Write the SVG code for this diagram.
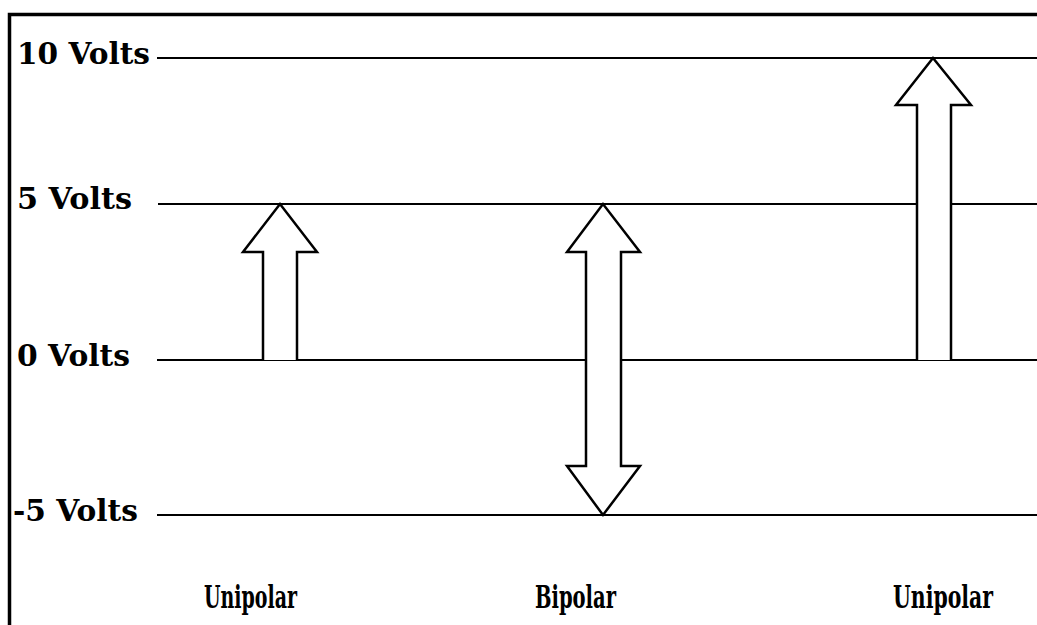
<svg xmlns="http://www.w3.org/2000/svg" width="1037" height="625" viewBox="0 0 1037 625">
  <style>
    .frame { fill: none; stroke: #000; stroke-width: 3.5; }
    .level { stroke: #000; stroke-width: 2; }
    .arrow { fill: #fff; stroke: #000; stroke-width: 2.5; stroke-linejoin: miter; }
    .label { font-family: "DejaVu Serif", "Liberation Serif", serif; font-size: 30px; font-weight: bold; fill: #000; }
    .kind { font-family: "DejaVu Serif Condensed", "Liberation Serif", serif; font-stretch: condensed; font-size: 31px; }
  </style>
  <rect width="1037" height="625" fill="#fff"/>
  <!-- outer frame (top and left edges) -->
  <path class="frame" d="M9.5,625 V14.5 H1037"/>

  <!-- voltage levels -->
  <g id="level-10">
    <line class="level" x1="157" y1="58" x2="1037" y2="58"/>
    <text class="label" x="17" y="64" textLength="133" lengthAdjust="spacingAndGlyphs">10 Volts</text>
  </g>
  <g id="level-5">
    <line class="level" x1="158" y1="204" x2="1037" y2="204"/>
    <text class="label" x="17" y="209" textLength="115" lengthAdjust="spacingAndGlyphs">5 Volts</text>
  </g>
  <g id="level-0">
    <line class="level" x1="157" y1="360" x2="1037" y2="360"/>
    <text class="label" x="17" y="366" textLength="113" lengthAdjust="spacingAndGlyphs">0 Volts</text>
  </g>
  <g id="level-minus5">
    <line class="level" x1="157" y1="515" x2="1037" y2="515"/>
    <text class="label" x="13" y="521" textLength="125" lengthAdjust="spacingAndGlyphs">-5 Volts</text>
  </g>

  <!-- range arrows -->
  <g id="unipolar-5">
    <path class="arrow" d="M263,360 V252 H243 L280,204 L317,252 H297 V360"/>
    <text class="label kind" x="204" y="608" textLength="93" lengthAdjust="spacingAndGlyphs">Unipolar</text>
  </g>
  <g id="bipolar">
    <path class="arrow" d="M586,252 H567 L603,204 L640,252 H621 V466 H640 L603,515 L567,466 H586 Z"/>
    <text class="label kind" x="535" y="608" textLength="81" lengthAdjust="spacingAndGlyphs">Bipolar</text>
  </g>
  <g id="unipolar-10">
    <path class="arrow" d="M917,360 V105 H896 L933,58 L971,105 H951 V360"/>
    <text class="label kind" x="893" y="608" textLength="100" lengthAdjust="spacingAndGlyphs">Unipolar</text>
  </g>
</svg>
